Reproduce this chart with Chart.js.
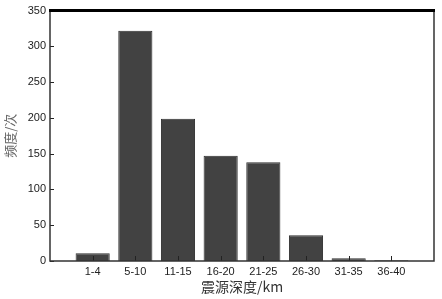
<!DOCTYPE html>
<html>
<head>
<meta charset="utf-8">
<script src="https://cdn.jsdelivr.net/npm/chart.js@4"></script>
<style>
  html, body { margin: 0; padding: 0; background: #fff; }
  #wrap { width: 442px; height: 299px; }
</style>
</head>
<body>
<div id="wrap"><canvas id="myChart" width="442" height="299"></canvas></div>
<script>
// categories padded with an empty slot on each side, as in the figure
const depths = ["", "1-4", "5-10", "11-15", "16-20", "21-25", "26-30", "31-35", "36-40", ""]
const counts = [null, 11, 322, 199, 147, 138, 36, 4, 1, null]
const yTicks = [0, 50, 100, 150, 200, 250, 300, 350]

// inward ticks + frame, all positions taken from the scales
const frame = {
  id: "frame",
  afterDatasetsDraw(chart) {
    const { ctx, chartArea: a, scales: { x, y } } = chart
    ctx.save()
    ctx.strokeStyle = "#222"
    ctx.lineWidth = 1
    ctx.beginPath()
    yTicks.forEach(v => {
      const py = Math.round(y.getPixelForValue(v)) + 0.5
      ctx.moveTo(a.left, py)
      ctx.lineTo(a.left + 4, py)
    })
    for (let i = 1; i < depths.length - 1; i++) {
      const px = Math.round(x.getPixelForTick(i)) + 0.5
      ctx.moveTo(px, a.bottom)
      ctx.lineTo(px, a.bottom - 5)
    }
    ctx.stroke()

    ctx.strokeStyle = "#333"
    ctx.lineWidth = 1.5
    ctx.beginPath()
    ctx.moveTo(a.left, a.top)
    ctx.lineTo(a.left, a.bottom)
    ctx.lineTo(a.right, a.bottom)
    ctx.lineTo(a.right, a.top)
    ctx.stroke()

    ctx.strokeStyle = "#000"
    ctx.lineWidth = 3
    ctx.beginPath()
    ctx.moveTo(a.left - 1, a.top)
    ctx.lineTo(a.right + 1, a.top)
    ctx.stroke()
    ctx.restore()
  }
}

new Chart(document.getElementById("myChart"), {
  type: "bar",
  data: {
    labels: depths,
    datasets: [{
      data: counts,
      backgroundColor: "#424242",
      borderColor: "#2e2e2e",
      borderWidth: 1,
      barPercentage: 0.8,
      categoryPercentage: 1
    }]
  },
  options: {
    responsive: false,
    animation: false,
    devicePixelRatio: 1,
    layout: { padding: { top: 9, right: 8, left: 0, bottom: 0 } },
    plugins: { legend: { display: false }, tooltip: { enabled: false } },
    scales: {
      x: {
        offset: false,
        grid: { display: false, drawTicks: false },
        border: { display: false },
        ticks: {
          color: "#222",
          font: { family: "Liberation Sans", size: 11 },
          padding: 4,
          maxRotation: 0,
          autoSkip: false
        },
        title: {
          display: true,
          text: "震源深度/km",
          color: "#333",
          font: { family: "Noto Sans CJK SC", size: 14 },
          padding: { top: 0, bottom: 4 }
        },
        afterFit(s) { s.height = 38 }
      },
      y: {
        min: 0,
        max: 350,
        grid: { display: false, drawTicks: false },
        border: { display: false },
        afterBuildTicks(s) { s.ticks = yTicks.map(v => ({ value: v })) },
        ticks: {
          color: "#222",
          font: { family: "Liberation Sans", size: 11 },
          padding: 4
        },
        title: {
          display: true,
          text: "频度/次",
          color: "#666",
          font: { family: "Noto Sans CJK SC", size: 13 },
          padding: 2
        },
        afterFit(s) { s.width = 50 }
      }
    }
  },
  plugins: [frame]
})
</script>
</body>
</html>
